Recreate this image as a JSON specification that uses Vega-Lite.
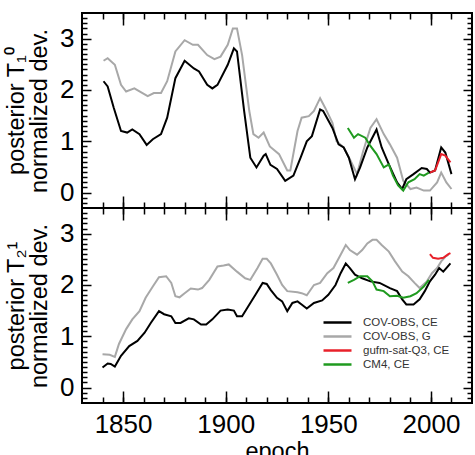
{
"$schema": "https://vega.github.io/schema/vega-lite/v6.json",
"padding": {"left": 3, "top": 11, "right": 4, "bottom": 0},
"spacing": 0,
"bounds": "flush",
"config": {
  "view": {"stroke": "black", "strokeWidth": 2},
  "axis": {"domain": false, "grid": false, "tickColor": "black", "tickWidth": 1.5, "labelFont": "Liberation Sans", "labelFontSize": 26, "labelColor": "black", "titleFont": "Liberation Sans", "titleFontSize": 23.5, "titleFontWeight": "normal", "titleColor": "black"}
},
"datasets": {
"top": [
{"series":"COV-OBS, G","epoch":1840.5,"v":2.57},{"series":"COV-OBS, G","epoch":1842.5,"v":2.62},{"series":"COV-OBS, G","epoch":1846,"v":2.49},{"series":"COV-OBS, G","epoch":1849,"v":2.1},{"series":"COV-OBS, G","epoch":1851.5,"v":1.97},{"series":"COV-OBS, G","epoch":1855.5,"v":2.03},{"series":"COV-OBS, G","epoch":1862,"v":1.88},{"series":"COV-OBS, G","epoch":1865,"v":1.94},{"series":"COV-OBS, G","epoch":1868.5,"v":1.94},{"series":"COV-OBS, G","epoch":1871.5,"v":2.17},{"series":"COV-OBS, G","epoch":1875.5,"v":2.75},{"series":"COV-OBS, G","epoch":1880,"v":2.97},{"series":"COV-OBS, G","epoch":1884,"v":2.88},{"series":"COV-OBS, G","epoch":1886.5,"v":2.88},{"series":"COV-OBS, G","epoch":1891,"v":2.68},{"series":"COV-OBS, G","epoch":1894.5,"v":2.6},{"series":"COV-OBS, G","epoch":1897.5,"v":2.65},{"series":"COV-OBS, G","epoch":1901,"v":2.88},{"series":"COV-OBS, G","epoch":1903.5,"v":3.2},{"series":"COV-OBS, G","epoch":1905.5,"v":3.2},{"series":"COV-OBS, G","epoch":1908,"v":2.68},{"series":"COV-OBS, G","epoch":1911.5,"v":1.59},{"series":"COV-OBS, G","epoch":1913.5,"v":1.14},{"series":"COV-OBS, G","epoch":1916,"v":1.07},{"series":"COV-OBS, G","epoch":1918.5,"v":1.17},{"series":"COV-OBS, G","epoch":1921.5,"v":0.9},{"series":"COV-OBS, G","epoch":1926,"v":0.75},{"series":"COV-OBS, G","epoch":1930,"v":0.43},{"series":"COV-OBS, G","epoch":1931.5,"v":0.43},{"series":"COV-OBS, G","epoch":1935,"v":1.2},{"series":"COV-OBS, G","epoch":1937,"v":1.46},{"series":"COV-OBS, G","epoch":1940.5,"v":1.49},{"series":"COV-OBS, G","epoch":1943,"v":1.59},{"series":"COV-OBS, G","epoch":1946,"v":1.84},{"series":"COV-OBS, G","epoch":1948.5,"v":1.65},{"series":"COV-OBS, G","epoch":1952,"v":1.36},{"series":"COV-OBS, G","epoch":1954,"v":1.0},{"series":"COV-OBS, G","epoch":1957.5,"v":0.88},{"series":"COV-OBS, G","epoch":1960.5,"v":0.65},{"series":"COV-OBS, G","epoch":1964,"v":0.36},{"series":"COV-OBS, G","epoch":1967,"v":0.81},{"series":"COV-OBS, G","epoch":1970.5,"v":1.26},{"series":"COV-OBS, G","epoch":1973.5,"v":1.43},{"series":"COV-OBS, G","epoch":1977,"v":1.14},{"series":"COV-OBS, G","epoch":1980,"v":0.94},{"series":"COV-OBS, G","epoch":1983.5,"v":0.68},{"series":"COV-OBS, G","epoch":1986.5,"v":0.23},{"series":"COV-OBS, G","epoch":1990,"v":0.07},{"series":"COV-OBS, G","epoch":1993,"v":0.1},{"series":"COV-OBS, G","epoch":1996.5,"v":0.04},{"series":"COV-OBS, G","epoch":1999.5,"v":0.04},{"series":"COV-OBS, G","epoch":2003,"v":0.2},{"series":"COV-OBS, G","epoch":2005,"v":0.39},{"series":"COV-OBS, G","epoch":2007.5,"v":0.2},{"series":"COV-OBS, G","epoch":2010,"v":0.07},
{"series":"COV-OBS, CE","epoch":1840.5,"v":2.17},{"series":"COV-OBS, CE","epoch":1842.5,"v":2.07},{"series":"COV-OBS, CE","epoch":1845.5,"v":1.65},{"series":"COV-OBS, CE","epoch":1849,"v":1.2},{"series":"COV-OBS, CE","epoch":1852,"v":1.17},{"series":"COV-OBS, CE","epoch":1854.5,"v":1.23},{"series":"COV-OBS, CE","epoch":1858,"v":1.14},{"series":"COV-OBS, CE","epoch":1861.5,"v":0.93},{"series":"COV-OBS, CE","epoch":1864.5,"v":1.04},{"series":"COV-OBS, CE","epoch":1868.5,"v":1.14},{"series":"COV-OBS, CE","epoch":1871.5,"v":1.46},{"series":"COV-OBS, CE","epoch":1875.5,"v":2.23},{"series":"COV-OBS, CE","epoch":1880,"v":2.57},{"series":"COV-OBS, CE","epoch":1884.5,"v":2.42},{"series":"COV-OBS, CE","epoch":1887,"v":2.36},{"series":"COV-OBS, CE","epoch":1891,"v":2.1},{"series":"COV-OBS, CE","epoch":1893.5,"v":2.03},{"series":"COV-OBS, CE","epoch":1896,"v":2.1},{"series":"COV-OBS, CE","epoch":1901,"v":2.49},{"series":"COV-OBS, CE","epoch":1904,"v":2.81},{"series":"COV-OBS, CE","epoch":1905.5,"v":2.75},{"series":"COV-OBS, CE","epoch":1909,"v":1.59},{"series":"COV-OBS, CE","epoch":1912,"v":0.68},{"series":"COV-OBS, CE","epoch":1915,"v":0.49},{"series":"COV-OBS, CE","epoch":1918.5,"v":0.72},{"series":"COV-OBS, CE","epoch":1919.5,"v":0.75},{"series":"COV-OBS, CE","epoch":1921.8,"v":0.54},{"series":"COV-OBS, CE","epoch":1925,"v":0.46},{"series":"COV-OBS, CE","epoch":1929,"v":0.23},{"series":"COV-OBS, CE","epoch":1933,"v":0.33},{"series":"COV-OBS, CE","epoch":1936.5,"v":0.68},{"series":"COV-OBS, CE","epoch":1939.5,"v":1.0},{"series":"COV-OBS, CE","epoch":1942,"v":1.1},{"series":"COV-OBS, CE","epoch":1946,"v":1.62},{"series":"COV-OBS, CE","epoch":1947.5,"v":1.59},{"series":"COV-OBS, CE","epoch":1952,"v":1.26},{"series":"COV-OBS, CE","epoch":1955,"v":0.94},{"series":"COV-OBS, CE","epoch":1957.5,"v":0.88},{"series":"COV-OBS, CE","epoch":1960,"v":0.68},{"series":"COV-OBS, CE","epoch":1963,"v":0.26},{"series":"COV-OBS, CE","epoch":1965.5,"v":0.49},{"series":"COV-OBS, CE","epoch":1969,"v":0.88},{"series":"COV-OBS, CE","epoch":1973.5,"v":1.23},{"series":"COV-OBS, CE","epoch":1976,"v":0.88},{"series":"COV-OBS, CE","epoch":1979.5,"v":0.55},{"series":"COV-OBS, CE","epoch":1983.5,"v":0.2},{"series":"COV-OBS, CE","epoch":1986,"v":0.07},{"series":"COV-OBS, CE","epoch":1988,"v":0.26},{"series":"COV-OBS, CE","epoch":1991.5,"v":0.36},{"series":"COV-OBS, CE","epoch":1995.5,"v":0.48},{"series":"COV-OBS, CE","epoch":1998,"v":0.46},{"series":"COV-OBS, CE","epoch":1999.5,"v":0.39},{"series":"COV-OBS, CE","epoch":2002,"v":0.43},{"series":"COV-OBS, CE","epoch":2005,"v":0.88},{"series":"COV-OBS, CE","epoch":2007,"v":0.78},{"series":"COV-OBS, CE","epoch":2010,"v":0.36},
{"series":"CM4, CE","epoch":1959.5,"v":1.26},{"series":"CM4, CE","epoch":1962.5,"v":1.07},{"series":"CM4, CE","epoch":1964.5,"v":1.14},{"series":"CM4, CE","epoch":1968,"v":1.07},{"series":"CM4, CE","epoch":1970.5,"v":0.91},{"series":"CM4, CE","epoch":1973.5,"v":0.75},{"series":"CM4, CE","epoch":1977,"v":0.49},{"series":"CM4, CE","epoch":1979.5,"v":0.55},{"series":"CM4, CE","epoch":1981.5,"v":0.33},{"series":"CM4, CE","epoch":1984,"v":0.14},{"series":"CM4, CE","epoch":1986.5,"v":0.04},{"series":"CM4, CE","epoch":1989,"v":0.2},{"series":"CM4, CE","epoch":1992,"v":0.26},{"series":"CM4, CE","epoch":1994.5,"v":0.36},{"series":"CM4, CE","epoch":1996.5,"v":0.33},{"series":"CM4, CE","epoch":1999,"v":0.39},
{"series":"gufm-sat-Q3, CE","epoch":1999.5,"v":0.39},{"series":"gufm-sat-Q3, CE","epoch":2002,"v":0.43},{"series":"gufm-sat-Q3, CE","epoch":2005,"v":0.75},{"series":"gufm-sat-Q3, CE","epoch":2007,"v":0.72},{"series":"gufm-sat-Q3, CE","epoch":2009.5,"v":0.59}
],
"bottom": [
{"series":"COV-OBS, G","epoch":1840,"v":0.65},{"series":"COV-OBS, G","epoch":1843.5,"v":0.64},{"series":"COV-OBS, G","epoch":1846,"v":0.6},{"series":"COV-OBS, G","epoch":1848,"v":0.85},{"series":"COV-OBS, G","epoch":1851.5,"v":1.14},{"series":"COV-OBS, G","epoch":1854.5,"v":1.33},{"series":"COV-OBS, G","epoch":1858,"v":1.49},{"series":"COV-OBS, G","epoch":1861,"v":1.75},{"series":"COV-OBS, G","epoch":1864.5,"v":1.97},{"series":"COV-OBS, G","epoch":1867.5,"v":2.15},{"series":"COV-OBS, G","epoch":1871,"v":2.17},{"series":"COV-OBS, G","epoch":1873.5,"v":2.04},{"series":"COV-OBS, G","epoch":1875.5,"v":1.78},{"series":"COV-OBS, G","epoch":1877.5,"v":1.76},{"series":"COV-OBS, G","epoch":1880,"v":1.84},{"series":"COV-OBS, G","epoch":1883,"v":1.93},{"series":"COV-OBS, G","epoch":1886.5,"v":1.91},{"series":"COV-OBS, G","epoch":1888.5,"v":1.94},{"series":"COV-OBS, G","epoch":1892,"v":2.1},{"series":"COV-OBS, G","epoch":1896,"v":2.36},{"series":"COV-OBS, G","epoch":1899,"v":2.38},{"series":"COV-OBS, G","epoch":1901.5,"v":2.4},{"series":"COV-OBS, G","epoch":1905.5,"v":2.26},{"series":"COV-OBS, G","epoch":1909.5,"v":2.13},{"series":"COV-OBS, G","epoch":1912,"v":2.1},{"series":"COV-OBS, G","epoch":1915.5,"v":2.33},{"series":"COV-OBS, G","epoch":1918,"v":2.51},{"series":"COV-OBS, G","epoch":1920,"v":2.51},{"series":"COV-OBS, G","epoch":1922,"v":2.42},{"series":"COV-OBS, G","epoch":1925,"v":2.2},{"series":"COV-OBS, G","epoch":1927.5,"v":2.0},{"series":"COV-OBS, G","epoch":1930,"v":1.88},{"series":"COV-OBS, G","epoch":1935,"v":1.86},{"series":"COV-OBS, G","epoch":1937,"v":1.84},{"series":"COV-OBS, G","epoch":1939.5,"v":1.8},{"series":"COV-OBS, G","epoch":1943,"v":2.0},{"series":"COV-OBS, G","epoch":1946,"v":2.04},{"series":"COV-OBS, G","epoch":1949.5,"v":2.23},{"series":"COV-OBS, G","epoch":1952.5,"v":2.33},{"series":"COV-OBS, G","epoch":1956,"v":2.59},{"series":"COV-OBS, G","epoch":1958.5,"v":2.78},{"series":"COV-OBS, G","epoch":1960.5,"v":2.68},{"series":"COV-OBS, G","epoch":1964,"v":2.59},{"series":"COV-OBS, G","epoch":1966.5,"v":2.68},{"series":"COV-OBS, G","epoch":1969,"v":2.81},{"series":"COV-OBS, G","epoch":1971.5,"v":2.88},{"series":"COV-OBS, G","epoch":1973.5,"v":2.88},{"series":"COV-OBS, G","epoch":1976,"v":2.78},{"series":"COV-OBS, G","epoch":1979.5,"v":2.65},{"series":"COV-OBS, G","epoch":1982.5,"v":2.46},{"series":"COV-OBS, G","epoch":1986,"v":2.26},{"series":"COV-OBS, G","epoch":1989,"v":2.17},{"series":"COV-OBS, G","epoch":1992,"v":2.04},{"series":"COV-OBS, G","epoch":1994.5,"v":1.94},{"series":"COV-OBS, G","epoch":1998,"v":2.07},{"series":"COV-OBS, G","epoch":2000.5,"v":2.23},{"series":"COV-OBS, G","epoch":2003,"v":2.33},{"series":"COV-OBS, G","epoch":2005,"v":2.46},{"series":"COV-OBS, G","epoch":2007,"v":2.55},{"series":"COV-OBS, G","epoch":2008.5,"v":2.59},
{"series":"COV-OBS, CE","epoch":1840,"v":0.39},{"series":"COV-OBS, CE","epoch":1842.5,"v":0.47},{"series":"COV-OBS, CE","epoch":1844,"v":0.46},{"series":"COV-OBS, CE","epoch":1846,"v":0.41},{"series":"COV-OBS, CE","epoch":1849,"v":0.62},{"series":"COV-OBS, CE","epoch":1853,"v":0.81},{"series":"COV-OBS, CE","epoch":1857,"v":0.91},{"series":"COV-OBS, CE","epoch":1860.5,"v":1.07},{"series":"COV-OBS, CE","epoch":1863.5,"v":1.26},{"series":"COV-OBS, CE","epoch":1867.5,"v":1.49},{"series":"COV-OBS, CE","epoch":1870,"v":1.43},{"series":"COV-OBS, CE","epoch":1873.5,"v":1.39},{"series":"COV-OBS, CE","epoch":1875.5,"v":1.26},{"series":"COV-OBS, CE","epoch":1878,"v":1.26},{"series":"COV-OBS, CE","epoch":1882,"v":1.35},{"series":"COV-OBS, CE","epoch":1884.5,"v":1.33},{"series":"COV-OBS, CE","epoch":1888,"v":1.23},{"series":"COV-OBS, CE","epoch":1890.5,"v":1.23},{"series":"COV-OBS, CE","epoch":1893.5,"v":1.33},{"series":"COV-OBS, CE","epoch":1897.5,"v":1.5},{"series":"COV-OBS, CE","epoch":1901,"v":1.52},{"series":"COV-OBS, CE","epoch":1904,"v":1.5},{"series":"COV-OBS, CE","epoch":1905.5,"v":1.39},{"series":"COV-OBS, CE","epoch":1908,"v":1.39},{"series":"COV-OBS, CE","epoch":1912,"v":1.65},{"series":"COV-OBS, CE","epoch":1914.5,"v":1.81},{"series":"COV-OBS, CE","epoch":1918,"v":2.04},{"series":"COV-OBS, CE","epoch":1920,"v":2.02},{"series":"COV-OBS, CE","epoch":1922,"v":1.9},{"series":"COV-OBS, CE","epoch":1925,"v":1.75},{"series":"COV-OBS, CE","epoch":1927.5,"v":1.68},{"series":"COV-OBS, CE","epoch":1930,"v":1.49},{"series":"COV-OBS, CE","epoch":1932.5,"v":1.65},{"series":"COV-OBS, CE","epoch":1935,"v":1.68},{"series":"COV-OBS, CE","epoch":1937,"v":1.62},{"series":"COV-OBS, CE","epoch":1939.5,"v":1.54},{"series":"COV-OBS, CE","epoch":1943,"v":1.65},{"series":"COV-OBS, CE","epoch":1947,"v":1.7},{"series":"COV-OBS, CE","epoch":1950,"v":1.81},{"series":"COV-OBS, CE","epoch":1953.5,"v":2.0},{"series":"COV-OBS, CE","epoch":1956,"v":2.23},{"series":"COV-OBS, CE","epoch":1958.5,"v":2.42},{"series":"COV-OBS, CE","epoch":1960.5,"v":2.33},{"series":"COV-OBS, CE","epoch":1963,"v":2.2},{"series":"COV-OBS, CE","epoch":1966.5,"v":2.13},{"series":"COV-OBS, CE","epoch":1970.5,"v":2.07},{"series":"COV-OBS, CE","epoch":1975,"v":2.04},{"series":"COV-OBS, CE","epoch":1980,"v":1.94},{"series":"COV-OBS, CE","epoch":1983.5,"v":1.88},{"series":"COV-OBS, CE","epoch":1986,"v":1.72},{"series":"COV-OBS, CE","epoch":1988,"v":1.62},{"series":"COV-OBS, CE","epoch":1991.5,"v":1.62},{"series":"COV-OBS, CE","epoch":1994.5,"v":1.72},{"series":"COV-OBS, CE","epoch":1997,"v":1.88},{"series":"COV-OBS, CE","epoch":1999.5,"v":2.07},{"series":"COV-OBS, CE","epoch":2002,"v":2.2},{"series":"COV-OBS, CE","epoch":2004,"v":2.33},{"series":"COV-OBS, CE","epoch":2006,"v":2.26},{"series":"COV-OBS, CE","epoch":2007.5,"v":2.33},{"series":"COV-OBS, CE","epoch":2009.5,"v":2.42},
{"series":"CM4, CE","epoch":1959.5,"v":2.04},{"series":"CM4, CE","epoch":1962.5,"v":2.1},{"series":"CM4, CE","epoch":1965.5,"v":2.17},{"series":"CM4, CE","epoch":1969,"v":2.17},{"series":"CM4, CE","epoch":1971.5,"v":2.07},{"series":"CM4, CE","epoch":1973.5,"v":1.91},{"series":"CM4, CE","epoch":1977,"v":1.88},{"series":"CM4, CE","epoch":1980,"v":1.78},{"series":"CM4, CE","epoch":1983.5,"v":1.79},{"series":"CM4, CE","epoch":1986.5,"v":1.75},{"series":"CM4, CE","epoch":1990,"v":1.78},{"series":"CM4, CE","epoch":1993,"v":1.84},{"series":"CM4, CE","epoch":1996.5,"v":1.97},{"series":"CM4, CE","epoch":1999,"v":2.1},
{"series":"gufm-sat-Q3, CE","epoch":1999.5,"v":2.6},{"series":"gufm-sat-Q3, CE","epoch":2001,"v":2.53},{"series":"gufm-sat-Q3, CE","epoch":2003.5,"v":2.51},{"series":"gufm-sat-Q3, CE","epoch":2006,"v":2.53},{"series":"gufm-sat-Q3, CE","epoch":2008.5,"v":2.6},{"series":"gufm-sat-Q3, CE","epoch":2009.5,"v":2.62}
]
},
"resolve": {"legend": {"color": "independent"}},
"vconcat": [
{
  "width": 390, "height": 195,
  "data": {"name": "top"},
  "layer": [
    {"mark": {"type": "line", "strokeWidth": 2},
     "encoding": {
       "x": {"field": "epoch", "type": "quantitative", "scale": {"domain": [1830, 2020], "nice": false, "zero": false}, "axis": {"orient": "bottom", "values": [1850, 1900, 1950, 2000], "tickSize": 12, "offset": -12, "labels": false, "title": null}},
       "y": {"field": "v", "type": "quantitative", "scale": {"domain": [-0.3, 3.5], "nice": false, "zero": false}, "axis": {"orient": "left", "values": [0, 1, 2, 3], "format": "d", "tickSize": 9, "offset": -9, "labelPadding": 8, "title": ["posterior T₁⁰", "normalized dev."], "titlePadding": 8, "titleLineHeight": 23}},
       "color": {"field": "series", "type": "nominal", "scale": {"domain": ["COV-OBS, CE", "COV-OBS, G", "gufm-sat-Q3, CE", "CM4, CE"], "range": ["#000000", "#a8a8a8", "#e8202a", "#1f9a1f"]}, "legend": null}
     }},
    {"mark": {"type": "line", "opacity": 0},
     "encoding": {
       "x": {"field": "epoch", "type": "quantitative", "axis": {"orient": "bottom", "values": [1840, 1850, 1860, 1870, 1880, 1890, 1900, 1910, 1920, 1930, 1940, 1950, 1960, 1970, 1980, 1990, 2000, 2010], "tickSize": 6, "offset": -6, "labels": false, "title": null}},
       "y": {"field": "v", "type": "quantitative", "axis": {"orient": "left", "values": [-0.2, -0.1, 0.1, 0.2, 0.3, 0.4, 0.5, 0.6, 0.7, 0.8, 0.9, 1.1, 1.2, 1.3, 1.4, 1.5, 1.6, 1.7, 1.8, 1.9, 2.1, 2.2, 2.3, 2.4, 2.5, 2.6, 2.7, 2.8, 2.9, 3.1, 3.2, 3.3, 3.4], "tickSize": 5, "offset": -5, "labels": false, "title": null}},
       "detail": {"field": "series"}
     }},
    {"mark": {"type": "line", "opacity": 0},
     "encoding": {
       "x": {"field": "epoch", "type": "quantitative", "axis": {"orient": "top", "values": [1850, 1900, 1950, 2000], "tickSize": 12, "offset": -12, "labels": false, "title": null}},
       "y": {"field": "v", "type": "quantitative", "axis": {"orient": "right", "values": [0, 1, 2, 3], "tickSize": 9, "offset": -9, "labels": false, "title": null}},
       "detail": {"field": "series"}
     }},
    {"mark": {"type": "line", "opacity": 0},
     "encoding": {
       "x": {"field": "epoch", "type": "quantitative", "axis": {"orient": "top", "values": [1840, 1850, 1860, 1870, 1880, 1890, 1900, 1910, 1920, 1930, 1940, 1950, 1960, 1970, 1980, 1990, 2000, 2010], "tickSize": 6, "offset": -6, "labels": false, "title": null}},
       "y": {"field": "v", "type": "quantitative", "axis": {"orient": "right", "values": [-0.2, -0.1, 0.1, 0.2, 0.3, 0.4, 0.5, 0.6, 0.7, 0.8, 0.9, 1.1, 1.2, 1.3, 1.4, 1.5, 1.6, 1.7, 1.8, 1.9, 2.1, 2.2, 2.3, 2.4, 2.5, 2.6, 2.7, 2.8, 2.9, 3.1, 3.2, 3.3, 3.4], "tickSize": 5, "offset": -5, "labels": false, "title": null}},
       "detail": {"field": "series"}
     }}
  ],
  "resolve": {"axis": {"x": "independent", "y": "independent"}}
},
{
  "width": 390, "height": 195,
  "data": {"name": "bottom"},
  "layer": [
    {"mark": {"type": "line", "strokeWidth": 2},
     "encoding": {
       "x": {"field": "epoch", "type": "quantitative", "scale": {"domain": [1830, 2020], "nice": false, "zero": false}, "axis": {"orient": "bottom", "values": [1850, 1900, 1950, 2000], "format": "d", "tickSize": 12, "offset": -12, "labelPadding": 8, "title": "epoch", "titlePadding": 2}},
       "y": {"field": "v", "type": "quantitative", "scale": {"domain": [-0.3, 3.5], "nice": false, "zero": false}, "axis": {"orient": "left", "values": [0, 1, 2, 3], "format": "d", "tickSize": 9, "offset": -9, "labelPadding": 8, "title": ["posterior T₂¹", "normalized dev."], "titlePadding": 8, "titleLineHeight": 23}},
       "color": {"field": "series", "type": "nominal", "scale": {"domain": ["COV-OBS, CE", "COV-OBS, G", "gufm-sat-Q3, CE", "CM4, CE"], "range": ["#000000", "#a8a8a8", "#e8202a", "#1f9a1f"]},
         "legend": {"orient": "none", "legendX": 247, "legendY": 106, "padding": 0, "title": null, "symbolType": "M-2,0L2,0", "symbolSize": 196, "symbolStrokeWidth": 2.5, "labelFont": "Liberation Sans", "labelFontSize": 11.5, "labelColor": "#333333", "labelOffset": 17, "rowPadding": 0}}
     }},
    {"mark": {"type": "line", "opacity": 0},
     "encoding": {
       "x": {"field": "epoch", "type": "quantitative", "axis": {"orient": "bottom", "values": [1840, 1850, 1860, 1870, 1880, 1890, 1900, 1910, 1920, 1930, 1940, 1950, 1960, 1970, 1980, 1990, 2000, 2010], "tickSize": 6, "offset": -6, "labels": false, "title": null}},
       "y": {"field": "v", "type": "quantitative", "axis": {"orient": "left", "values": [-0.2, -0.1, 0.1, 0.2, 0.3, 0.4, 0.5, 0.6, 0.7, 0.8, 0.9, 1.1, 1.2, 1.3, 1.4, 1.5, 1.6, 1.7, 1.8, 1.9, 2.1, 2.2, 2.3, 2.4, 2.5, 2.6, 2.7, 2.8, 2.9, 3.1, 3.2, 3.3, 3.4], "tickSize": 5, "offset": -5, "labels": false, "title": null}},
       "detail": {"field": "series"}
     }},
    {"mark": {"type": "line", "opacity": 0},
     "encoding": {
       "x": {"field": "epoch", "type": "quantitative", "axis": {"orient": "top", "values": [1850, 1900, 1950, 2000], "tickSize": 12, "offset": -12, "labels": false, "title": null}},
       "y": {"field": "v", "type": "quantitative", "axis": {"orient": "right", "values": [0, 1, 2, 3], "tickSize": 9, "offset": -9, "labels": false, "title": null}},
       "detail": {"field": "series"}
     }},
    {"mark": {"type": "line", "opacity": 0},
     "encoding": {
       "x": {"field": "epoch", "type": "quantitative", "axis": {"orient": "top", "values": [1840, 1850, 1860, 1870, 1880, 1890, 1900, 1910, 1920, 1930, 1940, 1950, 1960, 1970, 1980, 1990, 2000, 2010], "tickSize": 6, "offset": -6, "labels": false, "title": null}},
       "y": {"field": "v", "type": "quantitative", "axis": {"orient": "right", "values": [-0.2, -0.1, 0.1, 0.2, 0.3, 0.4, 0.5, 0.6, 0.7, 0.8, 0.9, 1.1, 1.2, 1.3, 1.4, 1.5, 1.6, 1.7, 1.8, 1.9, 2.1, 2.2, 2.3, 2.4, 2.5, 2.6, 2.7, 2.8, 2.9, 3.1, 3.2, 3.3, 3.4], "tickSize": 5, "offset": -5, "labels": false, "title": null}},
       "detail": {"field": "series"}
     }}
  ],
  "resolve": {"axis": {"x": "independent", "y": "independent"}}
}
]
}
